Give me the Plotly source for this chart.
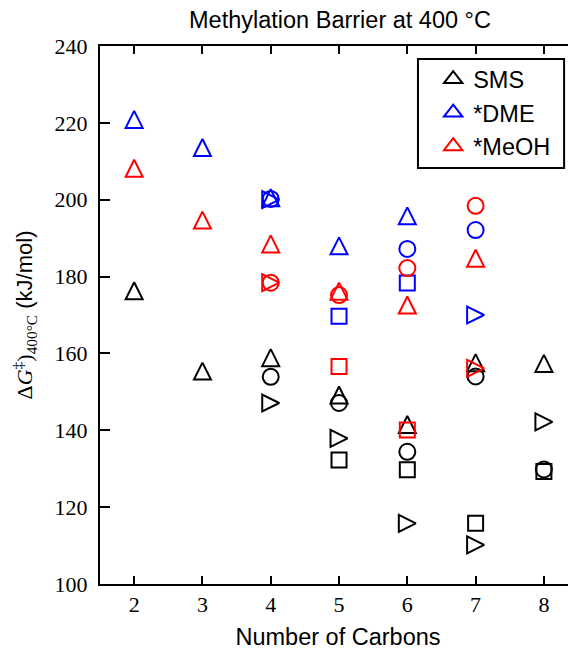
import plotly.graph_objects as go

carbons = [2, 3, 4, 5, 6, 7, 8]

# SMS (black)
sms_tri = [176.3, 155.4, 158.9, 149.2, 141.5, 157.6, 157.4]
sms_circ = [None, None, 153.9, 147.1, 134.4, 154.0, 129.8]
sms_rtri = [None, None, 147.1, 137.9, 115.8, 110.2, 142.2]
sms_sq = [None, None, None, 132.3, 129.7, 115.8, 129.3]

# *DME (blue)
dme_tri = [220.9, 213.6, 200.5, 188.0, 195.8, None, None]
dme_circ = [None, None, 200.2, None, 187.2, 192.1, None]
dme_rtri = [None, None, 200.0, None, None, 170.0, None]
dme_sq = [None, None, None, 169.7, 178.3, None, None]

# *MeOH (red)
meoh_tri = [208.2, 194.7, 188.5, 176.2, 172.6, 184.8, None]
meoh_circ = [None, None, 178.4, 175.2, 182.2, 198.4, None]
meoh_rtri = [None, None, 178.4, None, None, 156.1, None]
meoh_sq = [None, None, None, 156.6, 140.1, None, None]

series_names = ["SMS", "*DME", "*MeOH"]
series_colors = ["black", "blue", "red"]

y_ticks = [100, 120, 140, 160, 180, 200, 220, 240]

SANS = "Liberation Sans, Arial, sans-serif"
SERIF = "Liberation Serif, Times New Roman, serif"

TRI_SIZE = 17
CIRC_SIZE = 16
SQ_SIZE = 15
LW = 2


def marker(kind, color):
    if kind == "tri":
        return dict(symbol="arrow-down-open", size=TRI_SIZE, angle=180,
                    standoff=TRI_SIZE / 2, color=color, line=dict(color=color, width=LW))
    if kind == "rtri":
        return dict(symbol="arrow-down-open", size=TRI_SIZE, angle=-90,
                    standoff=TRI_SIZE / 2, color=color, line=dict(color=color, width=LW))
    if kind == "circ":
        return dict(symbol="circle-open", size=CIRC_SIZE, color=color,
                    line=dict(color=color, width=LW))
    return dict(symbol="square-open", size=SQ_SIZE, color=color,
                line=dict(color=color, width=LW))


fig = go.Figure()

groups = [
    (sms_tri, sms_circ, sms_rtri, sms_sq),
    (dme_tri, dme_circ, dme_rtri, dme_sq),
    (meoh_tri, meoh_circ, meoh_rtri, meoh_sq),
]

for name, color, (tri, circ, rtri, sq) in zip(series_names, series_colors, groups):
    for kind, vals in (("sq", sq), ("circ", circ), ("rtri", rtri), ("tri", tri)):
        fig.add_trace(go.Scatter(
            x=carbons, y=vals, mode="markers", name=name,
            legendgroup=name, showlegend=False,
            marker=marker(kind, color), cliponaxis=False,
        ))
    # legend entry
    fig.add_trace(go.Scatter(
        x=[None], y=[None], mode="markers", name=name, legendgroup=name,
        showlegend=True,
        marker=dict(symbol="triangle-up-open", size=16, color=color,
                    line=dict(color=color, width=LW)),
    ))

# legend box (frame)
fig.add_shape(type="rect", xref="paper", yref="paper",
              x0=0.668, x1=0.975, y0=0.7732, y1=0.9758,
              line=dict(color="black", width=2), fillcolor="white", layer="below")

fig.update_layout(
    width=568, height=642,
    margin=dict(l=92, r=0, t=38, b=66),
    paper_bgcolor="white", plot_bgcolor="white",
    showlegend=True,
    legend=dict(x=0.70, y=0.979, xanchor="left", yanchor="top",
                font=dict(family=SANS, size=23.5, color="black"),
                bgcolor="rgba(0,0,0,0)", borderwidth=0,
                tracegroupgap=0, traceorder="grouped"),
    title=dict(text="Methylation Barrier at 400 °C", x=(340 - 8) / 568, xanchor="center",
               y=1 - 12 / 642, yanchor="middle",
               font=dict(family=SANS, size=23.5, color="black")),
    xaxis=dict(range=[1.5, 8.47], tickvals=carbons, ticktext=[str(c) for c in carbons],
               showline=True, linecolor="black", linewidth=2, mirror="ticks",
               ticks="inside", ticklen=8, tickwidth=1.5, tickcolor="black",
               showgrid=False, zeroline=False,
               tickfont=dict(family=SERIF, size=22, color="black"),
               title=dict(text="Number of Carbons", standoff=12,
                          font=dict(family=SANS, size=23.5, color="black"))),
    yaxis=dict(range=[100, 240], tickvals=y_ticks,
               showline=True, linecolor="black", linewidth=2, mirror=False,
               ticks="inside", ticklen=10, tickwidth=1.5, tickcolor="black",
               showgrid=False, zeroline=False, ticklabelstandoff=6,
               tickfont=dict(family=SERIF, size=22, color="black"),
               title=dict(text=("<span style=\"font-family:Liberation Serif;color:black\">Δ<i>G</i><sup>‡</sup>)"
                                "<sub>400°C</sub></span> (kJ/mol)"),
                          standoff=16,
                          font=dict(family=SANS, size=22, color="black"))),
    yaxis2=dict(range=[100, 240], tickvals=y_ticks, overlaying="y", side="right",
                anchor="x", showline=False, ticks="inside", ticklen=10, tickwidth=1.5,
                tickcolor="black", showticklabels=False, showgrid=False, zeroline=False),
)

fig.write_html("out.html")
